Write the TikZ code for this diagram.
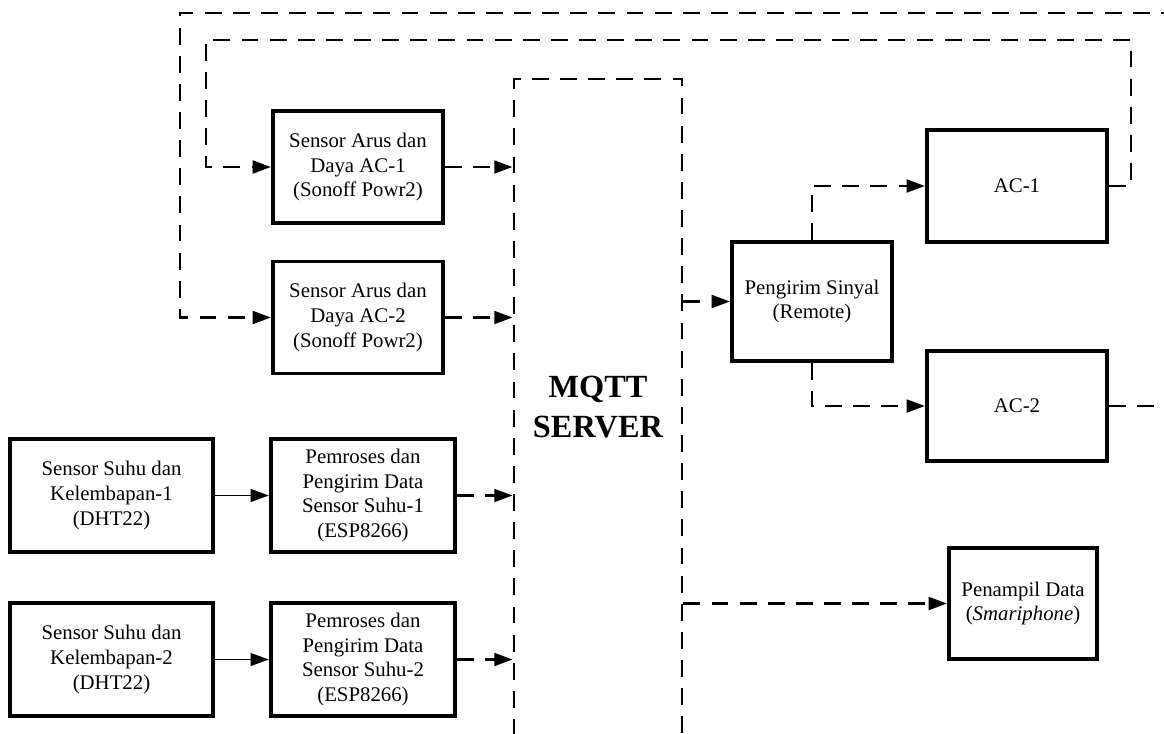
\documentclass[tikz,border=0pt]{standalone}
\usepackage{fontspec}
\setmainfont{Liberation Serif}
\usetikzlibrary{calc}
\usetikzlibrary{arrows.meta}
\usetikzlibrary{positioning}

\tikzset{
    flow/.style={draw=black, line width=2pt, dash pattern=on 12pt off 8pt,
                 -{Triangle[length=13pt,width=9pt]}},
    wire/.style={draw=black, line width=1.3pt, -{Triangle[length=13pt,width=9pt]}}
}

\begin{document}
\begin{tikzpicture}[x=0.025cm,y=-0.025cm]

    \useasboundingbox (0,0) rectangle (1164,733);
    \clip (0,0) rectangle (1164,733);

        % Boxes, one tuple per location (pixel grid of the sketch)
        \begin{scope}[every node/.style={rectangle,draw,line width=2.8pt,align=center,
                      font=\fontsize{14.8}{17.7}\selectfont,inner sep=2pt}]
        \node[minimum width=4.25cm,minimum height=2.8cm] (arus1) at (358,167) {Sensor Arus dan\\Daya AC-1\\(Sonoff Powr2)};
        \node[minimum width=4.25cm,minimum height=2.8cm] (arus2) at (358,317.5) {Sensor Arus dan\\Daya AC-2\\(Sonoff Powr2)};
        \node[minimum width=5.075cm,minimum height=2.825cm] (suhu1) at (111.5,495.5) {Sensor Suhu dan\\Kelembapan-1\\(DHT22)};
        \node[minimum width=5.075cm,minimum height=2.825cm] (suhu2) at (111.5,659.5) {Sensor Suhu dan\\Kelembapan-2\\(DHT22)};
        \node[minimum width=4.6cm,minimum height=2.825cm] (proc1) at (363,495.5) {Pemroses dan\\Pengirim Data\\Sensor Suhu-1\\(ESP8266)};
        \node[minimum width=4.6cm,minimum height=2.825cm] (proc2) at (363,659.5) {Pemroses dan\\Pengirim Data\\Sensor Suhu-2\\(ESP8266)};
        \node[minimum width=4cm,minimum height=2.975cm] (remote) at (812,301.5) {Pengirim Sinyal\\(Remote)};
        \node[minimum width=4.5cm,minimum height=2.8cm] (ac1) at (1017,186) {AC-1};
        \node[minimum width=4.5cm,minimum height=2.75cm] (ac2) at (1017,406) {AC-2};
        \node[minimum width=3.7cm,minimum height=2.775cm] (hp) at (1023,603.5) {Penampil Data\\(\textit{Smariphone})};
        \end{scope}

        % the server, a dashed frame running off the bottom
        \node[draw,line width=2pt,dash pattern=on 12pt off 8pt,minimum width=4.2cm,
              minimum height=17.775cm] (mqtt) at (598,434.5) {};
        \node[align=center,font=\fontsize{23}{28.5}\selectfont\bfseries] (mqtttxt) at (598,407) {MQTT\\SERVER};

        \coordinate (fbA) at (1131,40);
        \coordinate (fbB) at (206,40);
        \coordinate (fbC) at (1200,13);
        \coordinate (fbD) at (180,13);

        % sensor to processor (solid)
        \path (suhu1) edge[wire] (proc1);
        \path (suhu2) edge[wire] (proc2);

        % data flow over the network (dashed)
        \path (arus1.east) edge[flow] (arus1.east -| mqtt.west);
        \path (arus2.east) edge[flow] (arus2.east -| mqtt.west);
        \path (proc1.east) edge[flow] (proc1.east -| mqtt.west);
        \path (proc2.east) edge[flow] (proc2.east -| mqtt.west);
        \path (remote.west -| mqtt.east) edge[flow] (remote.west);
        \path (hp.west -| mqtt.east) edge[flow] (hp.west);

        \draw[flow] (remote.north) |- (ac1.west);
        \draw[flow] (remote.south) |- (ac2.west);

        % feedback from the AC units to the power sensors
        \draw[flow] (ac1.east) -| (fbA) -- (fbB) |- (arus1.west);
        \draw[flow] (ac2.east) -| (fbC) -- (fbD) |- (arus2.west);

\end{tikzpicture}
\end{document}
